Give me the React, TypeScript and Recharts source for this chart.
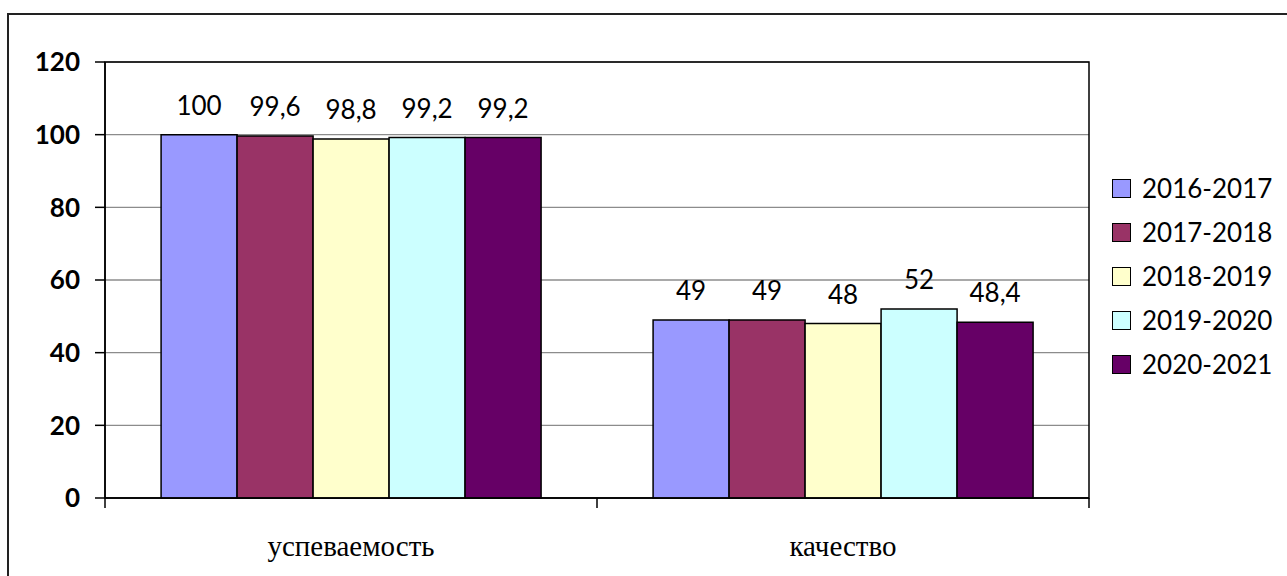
import { Bar, BarChart, CartesianGrid, LabelList, ReferenceArea, XAxis, YAxis } from "recharts";

const categories = ["успеваемость", "качество"];
const seriesNames = ["2016-2017", "2017-2018", "2018-2019", "2019-2020", "2020-2021"];
const seriesColors = ["#9999FF", "#993366", "#FFFFCC", "#CCFFFF", "#660066"];
const v2016 = [100, 49];
const v2017 = [99.6, 49];
const v2018 = [98.8, 48];
const v2019 = [99.2, 52];
const v2020 = [99.2, 48.4];
const yTicks = [0, 20, 40, 60, 80, 100, 120];

const seriesValues = [v2016, v2017, v2018, v2019, v2020];
const data = categories.map((name, i) => {
  const row: Record<string, string | number> = { name };
  seriesNames.forEach((s, k) => {
    row[s] = seriesValues[k][i];
  });
  return row;
});

const W = 1287;
const H = 576;
const margin = { top: 62, right: 198, bottom: 8, left: 0 };
const Y_W = 105;
const X_H = 70;
const PLOT_W = W - margin.left - margin.right - Y_W;

const fmt = (v: unknown) => String(v).replace(".", ",");

function CategoryTick(props: any) {
  const { x, y, payload, index } = props;
  const bw = PLOT_W / categories.length;
  return (
    <g>
      <line x1={x - bw / 2} x2={x - bw / 2} y1={y} y2={y + 10} stroke="#000" strokeWidth={1.5} />
      {index === categories.length - 1 && (
        <line x1={x + bw / 2} x2={x + bw / 2} y1={y} y2={y + 10} stroke="#000" strokeWidth={1.5} />
      )}
      <text
        x={x}
        y={y + 58}
        textAnchor="middle"
        fill="#000"
        style={{ fontFamily: "'Liberation Serif', serif", fontSize: 29 }}
      >
        {payload.value}
      </text>
    </g>
  );
}

function LegendBox() {
  return (
    <div
      style={{
        position: "absolute",
        left: 1112,
        top: 166,
        fontFamily: "Lato, sans-serif",
        fontSize: 26,
        color: "#000",
      }}
    >
      {seriesNames.map((s, i) => (
        <div key={s} style={{ display: "flex", alignItems: "center", height: 44 }}>
          <span
            style={{
              width: 17,
              height: 17,
              background: seriesColors[i],
              border: "1.5px solid #000",
              marginRight: 11,
              display: "inline-block",
            }}
          />
          <span>{s}</span>
        </div>
      ))}
    </div>
  );
}

export default function App() {
  return (
    <div
      style={{
        position: "absolute",
        left: 0,
        top: 0,
        width: W,
        height: H,
        overflow: "hidden",
        background: "#fff",
      }}
    >
      <div
        style={{
          position: "absolute",
          left: 7,
          top: 13,
          width: 1400,
          height: 700,
          border: "2px solid #222",
        }}
      />
      <div style={{ position: "absolute", left: 0, top: 0 }}>
        <BarChart
          width={W}
          height={H}
          data={data}
          margin={margin}
          barCategoryGap="11.4%"
          barGap={0}
        >
          <CartesianGrid vertical={false} stroke="#8c8c8c" strokeWidth={1.3} />
          <ReferenceArea y1={0} y2={120} fill="none" stroke="#000" strokeWidth={1.5} ifOverflow="visible" />
          <XAxis
            dataKey="name"
            height={X_H}
            axisLine={{ stroke: "#000", strokeWidth: 1.5 }}
            tickLine={false}
            tickSize={0}
            tickMargin={0}
            tick={<CategoryTick />}
            interval={0}
          />
          <YAxis
            width={Y_W}
            domain={[0, 120]}
            ticks={yTicks}
            interval={0}
            axisLine={{ stroke: "#000", strokeWidth: 1.5 }}
            tickLine={{ stroke: "#000", strokeWidth: 1.5 }}
            tickSize={10}
            tickMargin={15}
            tick={{
              fill: "#000",
              fontSize: 26,
              fontWeight: "bold",
              fontFamily: "Lato, sans-serif",
            }}
          />
          {seriesNames.map((s, i) => (
            <Bar
              key={s}
              dataKey={s}
              fill={seriesColors[i]}
              stroke="#000"
              strokeWidth={1.5}
              isAnimationActive={false}
            >
              <LabelList
                dataKey={s}
                position="top"
                offset={20}
                formatter={fmt}
                style={{ fontFamily: "Lato, sans-serif", fontSize: 26, fill: "#000" }}
              />
            </Bar>
          ))}
        </BarChart>
      </div>
      <LegendBox />
    </div>
  );
}
